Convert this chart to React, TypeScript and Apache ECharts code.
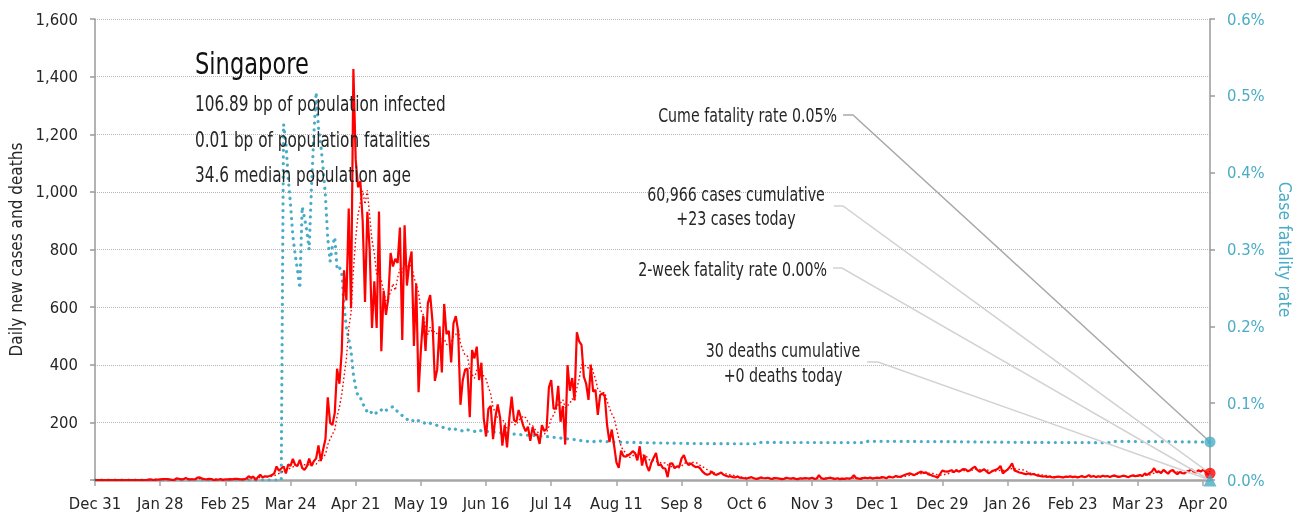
import React, { useEffect, useRef } from 'react';
import * as echarts from 'echarts';

// Singapore daily new cases, one array per month (first day: 2019-12-31)
const casesDec2019 = [0];
const casesJan2020 = [0, 0, 0, 0, 0, 0, 0, 0, 0, 0, 0, 0, 0, 0, 0, 0, 0, 0, 0, 0, 0, 0, 1, 2, 0, 1, 1, 2, 3, 3, 3];
const casesFeb2020 = [2, 0, 0, 6, 4, 2, 3, 7, 3, 2, 2, 3, 8, 9, 5, 3, 2, 4, 3, 0, 1, 1, 3, 0, 2, 2, 3, 2, 4];
const casesMar2020 = [4, 2, 2, 2, 5, 13, 8, 12, 0, 10, 18, 9, 13, 12, 14, 17, 23, 47, 32, 40, 47, 23, 54, 49, 73, 52, 49, 70, 42, 35, 47];
const casesApr2020 = [74, 49, 65, 75, 120, 66, 106, 142, 287, 198, 191, 233, 386, 334, 447, 728, 623, 942, 596, 1426, 1111, 1016, 1037, 897, 618, 931, 799, 528, 690, 528];
const casesMay2020 = [932, 447, 657, 573, 632, 788, 741, 768, 753, 876, 486, 884, 675, 752, 793, 465, 682, 305, 451, 570, 448, 614, 642, 548, 344, 383, 533, 373, 611, 506, 518];
const casesJun2020 = [408, 544, 569, 517, 261, 347, 383, 386, 218, 451, 422, 463, 347, 407, 214, 151, 247, 257, 142, 218, 262, 218, 119, 191, 113, 214, 289, 208, 202, 243];
const casesJul2020 = [215, 188, 169, 185, 136, 183, 157, 158, 125, 190, 170, 178, 322, 347, 248, 248, 327, 202, 257, 123, 399, 310, 354, 277, 513, 481, 469, 359, 334, 278, 396];
const casesAug2020 = [307, 313, 226, 295, 301, 290, 190, 132, 175, 120, 61, 42, 102, 83, 81, 86, 91, 100, 93, 68, 117, 50, 87, 51, 31, 60, 77, 94, 51, 54, 41];
const casesSep2020 = [40, 10, 57, 58, 41, 47, 46, 75, 86, 62, 52, 58, 50, 45, 46, 40, 29, 22, 18, 21, 29, 20, 18, 22, 26, 18, 15, 12, 13, 10];
const casesOct2020 = [9, 12, 8, 7, 6, 5, 8, 10, 6, 4, 5, 9, 7, 6, 8, 5, 4, 7, 6, 5, 3, 4, 8, 6, 5, 7, 4, 3, 6, 5, 7];
const casesNov2020 = [6, 5, 8, 4, 5, 17, 6, 4, 5, 7, 8, 5, 4, 6, 3, 5, 4, 6, 5, 7, 17, 6, 5, 4, 7, 8, 6, 9, 5, 7];
const casesDec2020 = [8, 7, 10, 9, 6, 12, 10, 9, 14, 12, 11, 15, 18, 21, 23, 20, 17, 22, 26, 29, 24, 27, 19, 18, 14, 12, 8, 20, 33, 30, 29];
const casesJan2021 = [31, 34, 27, 35, 29, 33, 38, 37, 30, 34, 41, 46, 35, 29, 33, 37, 30, 23, 28, 33, 35, 40, 49, 23, 30, 36, 45, 58, 33, 30, 26];
const casesFeb2021 = [25, 22, 20, 23, 19, 21, 18, 15, 14, 12, 13, 11, 12, 10, 9, 11, 12, 10, 9, 12, 11, 13, 10, 12, 9, 11, 14, 10];
const casesMar2021 = [12, 17, 11, 14, 10, 13, 11, 15, 12, 14, 10, 14, 16, 12, 11, 13, 15, 12, 10, 14, 16, 13, 15, 17, 14, 23, 18, 24, 29, 41, 27];
const casesApr2021 = [30, 24, 35, 28, 22, 31, 35, 26, 20, 28, 24, 23, 29, 32, 37, 30, 26, 34, 29, 35, 30, 19, 23];

// Cumulative deaths, as of the date each new total was reported
const deathTotals: [string, number][] = [
  ['2020-03-21', 2], ['2020-03-29', 3], ['2020-04-02', 4], ['2020-04-03', 5], ['2020-04-04', 6],
  ['2020-04-11', 7], ['2020-04-12', 8], ['2020-04-14', 9], ['2020-04-15', 10], ['2020-04-18', 11],
  ['2020-04-23', 12], ['2020-04-27', 13], ['2020-04-29', 14], ['2020-05-01', 15], ['2020-05-02', 16],
  ['2020-05-03', 17], ['2020-05-05', 18], ['2020-05-06', 19], ['2020-05-07', 20], ['2020-05-14', 21],
  ['2020-05-18', 22], ['2020-05-22', 23], ['2020-06-01', 24], ['2020-06-07', 25], ['2020-06-13', 26],
  ['2020-08-02', 27], ['2020-10-12', 28], ['2020-11-27', 29], ['2021-03-12', 30],
];

// Headline figures shown in the annotations
const cumulativeCases = 60966;
const deathsToday = 0;
const cumeFatalityLabel = '0.05%';
const twoWeekFatalityLabel = '0.00%';

const titleText = 'Singapore';
const statLines = [
  '106.89 bp of population infected',
  '0.01 bp of population fatalities',
  '34.6 median population age',
];

const MONTHS = ['Jan', 'Feb', 'Mar', 'Apr', 'May', 'Jun', 'Jul', 'Aug', 'Sep', 'Oct', 'Nov', 'Dec'];
const DAY_MS = 86400000;
const START = Date.UTC(2019, 11, 31);

const dailyCases: number[] = [
  ...casesDec2019, ...casesJan2020, ...casesFeb2020, ...casesMar2020, ...casesApr2020,
  ...casesMay2020, ...casesJun2020, ...casesJul2020, ...casesAug2020, ...casesSep2020,
  ...casesOct2020, ...casesNov2020, ...casesDec2020, ...casesJan2021, ...casesFeb2021,
  ...casesMar2021, ...casesApr2021,
];

const dates: string[] = dailyCases.map((_, i) => new Date(START + i * DAY_MS).toISOString().slice(0, 10));

const dayIndex = (iso: string) => {
  const [y, m, d] = iso.split('-').map(Number);
  return Math.round((Date.UTC(y, m - 1, d) - START) / DAY_MS);
};

const shortDate = (iso: string) => {
  const [, m, d] = iso.split('-').map(Number);
  return `${MONTHS[m - 1]} ${d}`;
};

// trailing 7-day mean of new cases
const avg7 = dailyCases.map((_, i) => {
  const from = Math.max(0, i - 6);
  const win = dailyCases.slice(from, i + 1);
  return win.reduce((a, b) => a + b, 0) / win.length;
});

// case fatality rate (%) = cumulative deaths / cumulative cases
const cfr: number[] = (() => {
  const out: number[] = [];
  let cum = 0;
  let deaths = 0;
  const steps = deathTotals.map(([d, n]) => [dayIndex(d), n] as [number, number]);
  let k = 0;
  for (let i = 0; i < dailyCases.length; i++) {
    cum += dailyCases[i];
    while (k < steps.length && steps[k][0] <= i) { deaths = steps[k][1]; k++; }
    out.push(cum > 0 ? (deaths / cum) * 100 : 0);
  }
  return out;
})();

const LAST = dailyCases.length - 1;
const totalDeaths = deathTotals[deathTotals.length - 1][1];

const FONT = '"Liberation Sans Narrow", "Arial Narrow", "DejaVu Sans Condensed", "Roboto Condensed", sans-serif';
const BLUE = '#4aacc6';
const RED = '#ff0000';
const TXT = '#262626';
const AXIS_FS = 16.5;
const SQUEEZE = 0.81;

export default function App() {
  const ref = useRef<HTMLDivElement>(null);

  useEffect(() => {
    if (!ref.current) return;
    const chart = echarts.init(ref.current, undefined, { renderer: 'svg' });
    const tickEvery = (i: number) => i % 28 === 0;

    chart.setOption({
      animation: false,
      textStyle: { fontFamily: FONT },
      grid: { left: 95, right: 97, top: 19, bottom: 40, containLabel: false, outerBoundsMode: 'none' },
      xAxis: {
        type: 'category',
        data: dates,
        boundaryGap: false,
        axisLine: { lineStyle: { color: '#a6a6a6', width: 2.5 } },
        axisTick: { interval: tickEvery, length: 6, lineStyle: { color: '#a6a6a6', width: 1.5 } },
        axisLabel: {
          interval: tickEvery,
          formatter: (v: string) => shortDate(v),
          color: TXT, fontSize: AXIS_FS, fontFamily: FONT, margin: 15,
        },
        splitLine: { show: false },
      },
      yAxis: [
        {
          type: 'value', min: 0, max: 1600, interval: 200, position: 'left',
          name: 'Daily new cases and deaths', nameLocation: 'middle', nameGap: 66, nameRotate: 90,
          nameTextStyle: { color: TXT, fontSize: 17, fontFamily: FONT },
          axisLine: { show: true, lineStyle: { color: '#9a9a9a', width: 1.5 } },
          axisTick: { show: true, length: 5, lineStyle: { color: '#9a9a9a', width: 1.5 } },
          axisLabel: {
            formatter: (v: number) => (v === 0 ? '' : v.toLocaleString('en-US')),
            color: TXT, fontSize: AXIS_FS, fontFamily: FONT, margin: 17,
          },
          splitLine: { show: true, lineStyle: { type: 'dotted', color: '#b5b5b5', width: 1 } },
        },
        {
          type: 'value', min: 0, max: 0.6, interval: 0.1, position: 'right',
          name: 'Case fatality rate', nameLocation: 'middle', nameGap: 64, nameRotate: -90,
          nameTextStyle: { color: BLUE, fontSize: 17.5, fontFamily: FONT },
          axisLine: { show: true, lineStyle: { color: '#9a9a9a', width: 1.5 } },
          axisTick: { show: true, length: 5, lineStyle: { color: '#9a9a9a', width: 1.5 } },
          axisLabel: {
            formatter: (v: number) => v.toFixed(1) + '%',
            color: BLUE, fontSize: AXIS_FS, fontFamily: FONT, margin: 17,
          },
          splitLine: { show: false },
        },
      ],
      series: [
        {
          name: 'Case fatality rate', type: 'line', yAxisIndex: 1, data: cfr, showSymbol: false, z: 1,
          lineStyle: { color: BLUE, width: 3.2, type: [0.1, 6.6], cap: 'round' },
        },
        {
          name: '7-day average', type: 'line', yAxisIndex: 0, data: avg7, showSymbol: false, z: 2,
          lineStyle: { color: RED, width: 1.4, type: [1.6, 2.4] },
        },
        {
          name: 'Daily new cases', type: 'line', yAxisIndex: 0, data: dailyCases, showSymbol: false, z: 3,
          lineStyle: { color: RED, width: 2.2 }, itemStyle: { color: RED },
        },
        {
          name: 'Latest cases', type: 'scatter', yAxisIndex: 0, z: 6,
          data: [[LAST, dailyCases[LAST]]], symbol: 'circle', symbolSize: 11, itemStyle: { color: RED },
        },
        {
          name: 'Latest CFR', type: 'scatter', yAxisIndex: 1, z: 6,
          data: [[LAST, cfr[LAST]]], symbol: 'circle', symbolSize: 11, itemStyle: { color: BLUE },
        },
        {
          name: '2-week CFR', type: 'scatter', yAxisIndex: 1, z: 6,
          data: [[LAST, 0]], symbol: 'triangle', symbolSize: 13, itemStyle: { color: BLUE },
        },
      ],
    });

    const pCases = chart.convertToPixel({ seriesIndex: 3 }, [LAST, dailyCases[LAST]]) as number[];
    const pCfr = chart.convertToPixel({ seriesIndex: 4 }, [LAST, cfr[LAST]]) as number[];
    const pZero = chart.convertToPixel({ seriesIndex: 5 }, [LAST, 0]) as number[];

    const leader = (pts: number[][], stroke: string) => ({
      type: 'polyline', z: 5, silent: true,
      shape: { points: pts },
      style: { stroke, lineWidth: 1.5, fill: null },
    });
    const label = (x: number, y: number, text: string, align: string, size = 19.5) => ({
      type: 'text', x, y, z: 7, silent: true, scaleX: SQUEEZE,
      style: { text, fill: TXT, font: `${size}px ${FONT}`, align, verticalAlign: 'middle' },
    });

    chart.setOption({
      graphic: [
        { type: 'text', x: 195, y: 64, z: 7, silent: true, scaleX: 0.81,
          style: { text: titleText, fill: '#111', font: `31px ${FONT}`, align: 'left', verticalAlign: 'middle' } },
        ...statLines.map((t, i) => label(195, 104 + i * 35.5, t, 'left', 21)),

        label(837, 115, `Cume fatality rate ${cumeFatalityLabel}`, 'right'),
        leader([[843, 115], [853, 115], pCfr], '#a9a9a9'),

        label(736, 194, `${cumulativeCases.toLocaleString('en-US')} cases cumulative`, 'center'),
        label(736, 218, `+${dailyCases[LAST]} cases today`, 'center'),
        leader([[834, 206], [843, 206], pCases], '#d2d2d2'),

        label(827, 269, `2-week fatality rate ${twoWeekFatalityLabel}`, 'right'),
        leader([[833, 268], [842, 268], pZero], '#d2d2d2'),

        label(783, 350, `${totalDeaths} deaths cumulative`, 'center'),
        label(783, 375, `+${deathsToday} deaths today`, 'center'),
        leader([[867, 362], [878, 362], pZero], '#d2d2d2'),
      ],
    });

    return () => chart.dispose();
  }, []);

  return <div ref={ref} style={{ position: 'fixed', left: 0, top: 0, width: 1307, height: 520 }} />;
}
